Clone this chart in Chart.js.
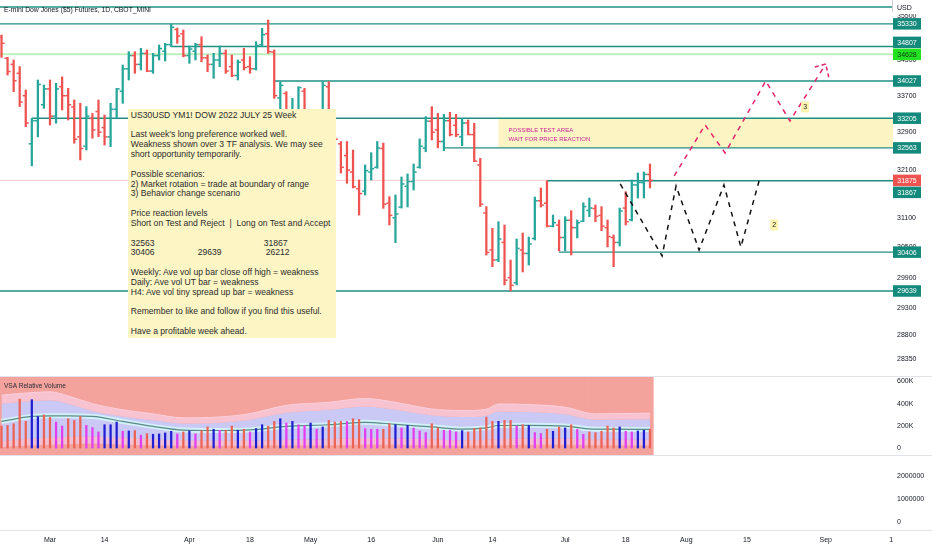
<!DOCTYPE html>
<html><head><meta charset="utf-8">
<title>E-mini Dow Jones ($5) Futures, 1D</title>
<script src="https://cdn.jsdelivr.net/npm/chart.js@4/dist/chart.umd.min.js"></script>
<style>
html,body{margin:0;padding:0;background:#fff}
body{width:932px;height:550px;position:relative;overflow:hidden;font-family:'Liberation Sans',Arial,sans-serif}
canvas{position:absolute;left:0;display:block}
.sep{position:absolute;left:0;width:932px;height:1px;background:#e0e3eb}
#note{position:absolute;left:128px;top:109px;width:208px;height:229px;background:#fdf6c4;color:#2b2b2b;font-size:8.6px;line-height:9.83px;white-space:pre;padding:1.8px 0 0 2.7px;box-sizing:border-box;overflow:hidden}
#note span{display:inline-block}
</style></head>
<body>
<canvas id="price" width="932" height="376" style="top:0"></canvas>
<canvas id="vol" width="932" height="78" style="top:377px"></canvas>
<canvas id="bottom" width="932" height="95" style="top:455px"></canvas>
<div class="sep" style="top:376px"></div>
<div class="sep" style="top:455px"></div>
<div class="sep" style="top:530px"></div>
<div style="position:absolute;left:892px;top:0;width:1px;height:12px;background:#c9ccd4"></div>
<div id="note">US30USD YM1! DOW 2022 JULY 25 Week

Last week's long preference worked well.
Weakness shown over 3 TF analysis. We may see
short opportunity temporarily.

Possible scenarios:
2) Market rotation = trade at boundary of range
3) Behavior change scenario

Price reaction levels
Short on Test and Reject  |  Long on Test and Accept

<span style="width:133px">32563</span>31867
<span style="width:67px">30406</span><span style="width:68px">29639</span>26212

Weekly: Ave vol up bar close off high = weakness
Daily: Ave vol UT bar = weakness
H4: Ave vol tiny spread up bar = weakness

Remember to like and follow if you find this useful.

Have a profitable week ahead.</div>
<script>
// ---------- DATA ----------
const opens = [35020,34540,34400,34200,33700,32650,33150,33500,33850,33250,
33900,33700,33450,32800,32600,33200,33350,33000,32800,33400,
33800,34300,34600,34400,34650,34250,34600,34700,34850,35200,
35100,34600,34700,34850,34550,34400,34500,34650,34350,34150,
34500,34350,34300,34850,35100,34680,33650,33750,33150,33300,
33800,32850,32920,33000,33900,32850,32650,32400,32050,31700,
31650,32050,32150,32550,31400,31100,31320,31750,31850,32150,
32560,33140,32950,32700,33150,33050,32800,33100,32850,32200,
31200,30450,30250,30600,29900,29800,30450,30380,30680,31450,
31400,30930,30950,30700,31050,30900,31030,31250,31290,31150,
30900,30700,30600,31300,31060,31780,31830,32000];
const highs = [35071,34560,34500,34350,33826,33200,34049,33938,34049,33975,
34120,33864,33605,33532,33458,33310,33605,33275,33532,33864,
34387,34690,34690,34766,34728,34652,34842,34880,35320,35233,
35187,34820,34880,35033,34614,34652,34820,34728,34614,34500,
34766,34575,34918,35225,35419,34728,34012,33790,33642,33900,
33864,32950,33100,34012,34012,32950,32700,32700,32518,31883,
32199,32460,32700,32666,31535,31570,31946,32010,32220,32755,
33240,33458,33310,33288,33334,33290,33200,33166,33094,32340,
31330,30886,31020,30954,30249,30670,30791,30710,31528,31716,
31867,31157,31055,31123,31246,31055,31410,31507,31363,31329,
31055,30751,31300,31639,31883,32030,32050,32220];
const lows = [34560,34161,33790,33460,33020,32180,32800,33420,33057,33095,
33384,33166,32663,32305,32518,32770,32805,32625,32590,33220,
33532,34049,34200,34274,34235,34200,34500,34478,34807,34880,
34573,34425,34500,34460,34235,34087,34350,34200,34123,34049,
34274,34200,34274,34804,34652,33642,33350,33100,33080,33220,
32780,32400,32750,32850,32630,32300,32030,31813,31716,31157,
31570,31883,32130,31295,30954,30597,31300,31322,31674,32130,
32480,32733,32563,32503,32820,32805,32610,32841,32270,31330,
30349,30117,30216,29756,29639,29756,30012,30150,30649,31322,
30913,30913,30429,30429,30349,30690,31020,31123,31020,30838,
30509,30117,30529,30954,31035,31507,31507,31716];
const closes = [34880,34240,34033,33560,33100,33150,33950,33850,33250,33850,
33700,33500,32750,32550,33250,32950,32900,32800,33400,33850,
34300,34600,34400,34650,34250,34600,34760,34850,35250,35050,
34600,34750,34850,34550,34400,34500,34650,34250,34150,34450,
34330,34300,34830,35080,34690,33700,33930,33130,33200,33880,
32850,32930,33000,33930,32870,32750,32150,32090,31740,31600,
32080,32120,32560,31380,31150,31180,31800,31850,32050,32600,
33140,32900,32700,33150,32850,32850,33100,32850,32280,31380,
30400,30250,30670,29850,29750,30480,30380,30570,31450,31360,
30930,31000,30700,31050,30900,31000,31330,31300,31130,30930,
30720,30600,31240,31020,31780,31830,32000,31875];
// volume (thousands) and VSA colour class per bar
const volumes = [198,204,219,441,240,436,284,299,276,234,198,264,249,284,204,184,145,210,210,234,
151,154,157,116,130,124,127,136,151,127,145,154,127,157,190,169,160,160,198,160,
169,145,175,210,198,240,264,225,240,210,204,225,169,190,249,
234,240,240,264,258,175,169,169,169,219,210,181,204,181,154,139,219,181,160,160,
145,157,145,175,181,279,240,240,249,249,198,210,204,139,130,169,151,190,181,210,
169,124,145,139,151,198,181,190,151,145,154,160,169];
const volClass = ['r','r','r','r','r','b','b','r','r','m','m','r','r','r','m','m','m','b','b','b',
'm','b','r','m','r','b','b','b','b','m','r','b','m','r','r','b','m','r','r','b',
'r','m','b','b','r','r','b','m','b','m','m','b','m','b','r',
'r','r','m','r','r','m','m','m','r','r','b','m','b','m','m','m','r','r','m','m',
'm','b','r','r','r','r','r','b','r','r','m','r','b','m','m','r','b','r','b','r',
'm','m','r','r','r','r','r','b','m','m','b','b','r'];
// relative-volume bands sampled at bars (thousands)
const bandBars   = [0,5,8,11,15,20,25,30,36,41,47,54,60,65,71,76,80,82,87,93,98,107];
const bandMA     = [240,285,290,290,285,240,195,162,158,163,195,210,232,214,190,170,182,203,205,198,170,168];
const bandUpper2 = [477,500,507,470,400,345,308,272,280,310,385,412,447,412,352,338,350,397,392,368,308,315];
const bandUpper1 = [400,425,430,400,335,285,252,222,228,255,318,345,375,345,295,280,292,330,325,305,255,260];
const bandLower1 = [60,85,95,100,105,95,80,70,65,65,75,80,90,85,80,70,75,80,85,85,75,75];
const bandLower2 = [10,25,30,35,40,30,25,20,20,20,25,25,30,30,25,20,25,25,30,30,25,25];
// horizontal levels
const levelValues   = [35723,35330,34807,34027,33205,32563,31867,30406,29639];
const levelStartBar = [-1,-1,28,45,5,73,90,92,-1];
const levelLabeled  = [false,true,true,true,true,true,true,true,true];
const greenLevel = 34628;
const testAreaTop = 33205, testAreaBottom = 32563, testAreaStartBar = 82;
// projected paths
const blackPathBars   = [102.1,109.0,111.3,115.1,119.2,122.0,125.0];
const blackPathPrices = [31799,30329,31757,30449,31778,30509,31862];
const pinkPathBars    = [111.0,116.1,119.4,126.1,130.1,136.0];
const pinkPathPrices  = [31967,33057,32454,34027,33144,34409];
const arrowBars   = [134.2,136.0,136.5];
const arrowPrices = [34341,34409,34117];
const noteLabels = ['2','3'], noteBars = [127.5,132.6], notePrices = [30954,33450];
// axes
const priceTicks = [35500,34500,33700,32900,32100,31100,30500,29900,29300,28800,28350];
const volTicks = [0,200,400,600];
const lowerTicks = [0,1000000,2000000];
const timeTickLabels = ['Mar','14','Apr','18','May','16','Jun','14','Jul','18','Aug','15','Sep','1'];
const timeTickBars   = [8,17,31,41,51,61,72,81,93,103,113,123,136,146.8];

// ---------- STYLE ----------
const FONT = "'Liberation Sans', Arial, sans-serif";
Chart.defaults.font.family = FONT;
Chart.defaults.color = '#131722';
const X_MIN = -0.25, X_MAX = 147.1;
const UP = '#26a69a', DN = '#ef5350', LEVEL = '#1f8f83', LABEL_BG = '#138a7b';
const barColors = closes.map((c,i)=> c>=opens[i] ? UP : DN);
const volPalette = {r:'#ec6354', b:'#1e1ed2', m:'#e23df0'};
const fitY = s => { s.width = 39; s.paddingTop = 0; s.paddingBottom = 0; };

// ---------- PRICE PANE ----------
const priceDatasets = [];
levelValues.forEach((v,k)=>{
  priceDatasets.push({type:'line', order:3, data:[{x:levelStartBar[k],y:v},{x:X_MAX+1,y:v}],
    borderColor:LEVEL, borderWidth:1.4, pointRadius:0});
});
priceDatasets.push({type:'line', order:4, data:[{x:-1,y:greenLevel},{x:X_MAX+1,y:greenLevel}],
  borderColor:'#bdeebd', borderWidth:2, pointRadius:0});
priceDatasets.push({type:'line', order:4, data:[{x:-1,y:closes[closes.length-1]},{x:X_MAX+1,y:closes[closes.length-1]}],
  borderColor:'rgba(239,83,80,0.3)', borderWidth:1, pointRadius:0});
priceDatasets.push({type:'bar', order:1, grouped:false, barThickness:1.6,
  data: highs.map((h,i)=>({x:i, y:[lows[i],h]})), backgroundColor:barColors});
priceDatasets.push({type:'line', order:0, data: blackPathBars.map((b,i)=>({x:b,y:blackPathPrices[i]})),
  borderColor:'#111', borderWidth:1.5, borderDash:[5,5], pointRadius:0});
priceDatasets.push({type:'line', order:0, data: pinkPathBars.map((b,i)=>({x:b,y:pinkPathPrices[i]})),
  borderColor:'#e3236c', borderWidth:1.5, borderDash:[5,5], pointRadius:0});
priceDatasets.push({type:'line', order:0, data: arrowBars.map((b,i)=>({x:b,y:arrowPrices[i]})),
  borderColor:'#e3236c', borderWidth:1.5, borderDash:[4,3], pointRadius:0});

const priceExtras = {
  id:'priceExtras',
  beforeDatasetsDraw(chart){
    const {ctx, chartArea:ca, scales:{x,y}} = chart;
    const x1 = x.getPixelForValue(testAreaStartBar), y1 = y.getPixelForValue(testAreaTop), y2 = y.getPixelForValue(testAreaBottom);
    ctx.save();
    ctx.fillStyle = '#fdf4c4';
    ctx.fillRect(x1, y1, ca.right-x1, y2-y1);
    ctx.fillStyle = '#c8249b';
    ctx.font = '6px ' + FONT;
    ctx.textBaseline = 'middle';
    ctx.fillText('POSSIBLE TEST AREA', x1+10, y1+12);
    ctx.fillText('WAIT FOR PRICE REACTION', x1+10, y1+21);
    ctx.restore();
  },
  afterDatasetsDraw(chart){
    const {ctx, chartArea:ca, scales:{x,y}} = chart;
    ctx.save();
    ctx.beginPath(); ctx.rect(ca.left, ca.top, ca.width, ca.height); ctx.clip();
    for(let i=0;i<opens.length;i++){
      const px = x.getPixelForValue(i);
      ctx.fillStyle = barColors[i];
      ctx.fillRect(px-3, y.getPixelForValue(opens[i])-0.75, 2.25, 1.5);
      ctx.fillRect(px+0.75, y.getPixelForValue(closes[i])-0.75, 2.25, 1.5);
    }
    ctx.font = '7px ' + FONT; ctx.textAlign='center'; ctx.textBaseline='middle';
    noteLabels.forEach((t,k)=>{
      const px = x.getPixelForValue(noteBars[k]), py = y.getPixelForValue(notePrices[k]);
      ctx.fillStyle = '#fff3b0'; ctx.fillRect(px-4, py-5.5, 8, 11);
      ctx.fillStyle = '#222'; ctx.fillText(t, px, py+0.5);
    });
    ctx.restore();
  },
  afterDraw(chart){
    const {ctx, chartArea:ca, scales:{y}} = chart;
    ctx.save();
    ctx.fillStyle = '#131722'; ctx.font = '6.8px ' + FONT; ctx.textBaseline='middle';
    ctx.fillText('E-mini Dow Jones ($5) Futures, 1D, CBOT_MINI', 4, 10.5);
    ctx.fillStyle = '#fff'; ctx.fillRect(ca.right+1, 0, 38, 14);
    ctx.fillStyle = '#131722'; ctx.font = '7px ' + FONT;
    ctx.fillText('USD', ca.right+4, 8);
    const last = closes[closes.length-1];
    const fixed = [{v:last, bg:DN, fg:'#fff'},{v:greenLevel, bg:'#22e222', fg:'#103a10'}];
    fixed.forEach(f=>f.py = y.getPixelForValue(f.v));
    const labels = [];
    levelValues.forEach((v,k)=>{ if(levelLabeled[k]) labels.push({v, bg:LABEL_BG, fg:'#fff'}); });
    labels.forEach(l=>{
      l.py = y.getPixelForValue(l.v);
      fixed.forEach(f=>{ if(Math.abs(l.py-f.py) < 12) l.py = l.v > f.v ? f.py-12 : f.py+12; });
    });
    labels.concat(fixed).forEach(l=>{
      ctx.fillStyle = l.bg; ctx.fillRect(ca.right, l.py-5.75, 28, 11.5);
      ctx.fillStyle = l.fg; ctx.textAlign='center';
      ctx.fillText(String(l.v), ca.right+14, l.py+0.5);
    });
    ctx.restore();
  }
};

new Chart(document.getElementById('price'), {
  type:'bar',
  data:{datasets: priceDatasets},
  options:{responsive:false, animation:false, events:[], layout:{padding:0},
    plugins:{legend:{display:false}, tooltip:{enabled:false}},
    scales:{
      x:{type:'linear', min:X_MIN, max:X_MAX, offset:false, display:false},
      y:{type:'logarithmic', position:'right', min:28028, max:35888,
        grid:{display:false, drawTicks:false}, border:{display:false},
        afterBuildTicks: s=>{ s.ticks = priceTicks.map(v=>({value:v})); },
        afterFit: fitY,
        ticks:{autoSkip:false, padding:4, font:{size:7}, color:'#131722', callback:v=>String(v)}}
    }},
  plugins:[priceExtras]
});

// ---------- VOLUME PANE ----------
const bandPts = arr => bandBars.map((b,i)=>({x:b, y:arr[i]}));
const lineBase = {type:'line', order:5, pointRadius:0, cubicInterpolationMode:'monotone'};
const volExtras = {
  id:'volExtras',
  afterDraw(chart){
    const ctx = chart.ctx;
    ctx.save(); ctx.fillStyle='#2a2e39'; ctx.font='6.5px '+FONT; ctx.textBaseline='middle';
    ctx.fillText('VSA Relative Volume', 4, 9); ctx.restore();
  }
};
const V_MIN = -63, V_MAX = 640.6;
new Chart(document.getElementById('vol'), {
  type:'bar',
  data:{datasets:[
    Object.assign({}, lineBase, {data:bandPts(bandUpper2), borderColor:'#fbd0dc', borderWidth:1, backgroundColor:'#f8c3d0', fill:'+1'}),
    Object.assign({}, lineBase, {data:bandPts(bandUpper1), borderColor:'rgba(0,0,0,0)', borderWidth:0, backgroundColor:'#cac8f5', fill:'+1'}),
    Object.assign({}, lineBase, {data:bandPts(bandLower1), borderColor:'rgba(0,0,0,0)', borderWidth:0, backgroundColor:'#f3bfd2', fill:'+1'}),
    Object.assign({}, lineBase, {data:bandPts(bandLower2), borderColor:'rgba(0,0,0,0)', borderWidth:0, fill:false}),
    Object.assign({}, lineBase, {order:4, data:bandPts(bandMA), borderColor:'#d3f1f8', borderWidth:5, fill:false}),
    Object.assign({}, lineBase, {order:3, data:bandPts(bandMA), borderColor:'#5b8a8a', borderWidth:1.2, fill:false}),
    {type:'bar', order:1, grouped:false, barThickness:1.6,
      data: volumes.map((v,i)=>({x:i, y:v})), backgroundColor: volClass.map(c=>volPalette[c])},
    {type:'bar', order:9, grouped:false, barThickness:6.6,
      data: volumes.map((v,i)=>({x:i, y:[V_MIN, V_MAX]})), backgroundColor:'#f4a29c'}
  ]},
  options:{responsive:false, animation:false, events:[], layout:{padding:0},
    plugins:{legend:{display:false}, tooltip:{enabled:false}},
    scales:{
      x:{type:'linear', min:X_MIN, max:X_MAX, offset:false, display:false},
      y:{type:'linear', position:'right', min:V_MIN, max:V_MAX,
        grid:{display:false, drawTicks:false}, border:{display:false},
        afterBuildTicks: s=>{ s.ticks = volTicks.map(v=>({value:v})); },
        afterFit: fitY,
        ticks:{autoSkip:false, padding:4, font:{size:7}, color:'#131722', callback:v=> v===0?'0':v+'K'}}
    }},
  plugins:[volExtras]
});

// ---------- LOWER PANE + TIME AXIS ----------
new Chart(document.getElementById('bottom'), {
  type:'line',
  data:{datasets:[]},
  options:{responsive:false, animation:false, events:[], layout:{padding:0},
    plugins:{legend:{display:false}, tooltip:{enabled:false}},
    scales:{
      x:{type:'linear', min:X_MIN, max:X_MAX, offset:false,
        grid:{display:false, drawTicks:false}, border:{display:false},
        afterBuildTicks: s=>{ s.ticks = timeTickBars.map(v=>({value:v})); },
        afterFit: s=>{ s.height = 20; s.paddingLeft = 0; s.paddingRight = 0; },
        ticks:{autoSkip:false, maxRotation:0, padding:6, font:{size:7}, color:'#131722',
          callback:(v,i)=>timeTickLabels[i]}},
      y:{type:'linear', position:'right', min:-348000, max:2913000,
        grid:{display:false, drawTicks:false}, border:{display:false},
        afterBuildTicks: s=>{ s.ticks = lowerTicks.map(v=>({value:v})); },
        afterFit: fitY,
        ticks:{autoSkip:false, padding:4, font:{size:7}, color:'#131722', callback:v=>String(v)}}
    }}
});
</script>
</body></html>
